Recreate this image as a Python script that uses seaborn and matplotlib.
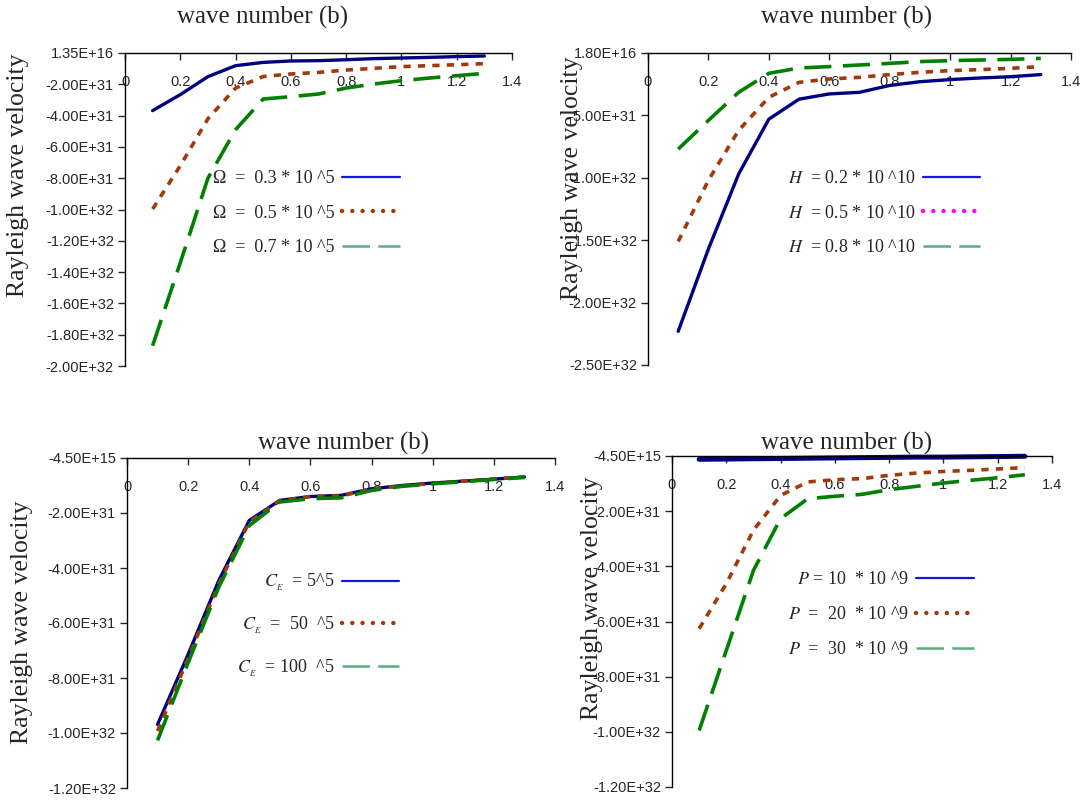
import matplotlib
matplotlib.use("Agg")
import matplotlib.pyplot as plt
from matplotlib.lines import Line2D
from matplotlib.ticker import FixedLocator, FuncFormatter
import numpy as np
import seaborn as sns

# wave number values (x) shared by every curve
wave = [0.1, 0.2, 0.3, 0.4, 0.5, 0.6, 0.7, 0.8, 0.9, 1.0, 1.1, 1.2, 1.3]
SCALE = 1e31  # curve values below are in units of 1E+31

# panel 1 : rotation Omega
omega_03 = [-3.68, -2.66, -1.51, -0.81, -0.60, -0.51, -0.49, -0.43, -0.36, -0.32, -0.28, -0.23, -0.19]
omega_05 = [-9.97, -7.20, -4.20, -2.24, -1.50, -1.34, -1.24, -1.09, -0.98, -0.87, -0.81, -0.75, -0.68]
omega_07 = [-18.7, -13.4, -8.00, -4.90, -2.94, -2.79, -2.62, -2.24, -1.98, -1.77, -1.60, -1.45, -1.30]
omega_labels = ["\u03a9  =  0.3 * 10 ^5", "\u03a9  =  0.5 * 10 ^5", "\u03a9  =  0.7 * 10 ^5"]
omega_yticks = [1.35e16, -2e31, -4e31, -6e31, -8e31, -1e32, -1.2e32, -1.4e32, -1.6e32, -1.8e32, -2e32]

# panel 2 : magnetic field H
h_02 = [-22.3, -15.7, -9.70, -5.30, -3.70, -3.28, -3.15, -2.60, -2.30, -2.13, -2.00, -1.90, -1.73]
h_05 = [-15.1, -10.2, -6.20, -3.55, -2.35, -2.08, -1.95, -1.73, -1.55, -1.41, -1.33, -1.23, -1.09]
h_08 = [-7.70, -5.40, -3.15, -1.63, -1.20, -1.09, -0.96, -0.83, -0.69, -0.61, -0.56, -0.51, -0.43]
h_labels = ["$H$  = 0.2 * 10 ^10", "$H$  = 0.5 * 10 ^10", "$H$  = 0.8 * 10 ^10"]
h_yticks = [1.8e16, -5e31, -1e32, -1.5e32, -2e32, -2.5e32]

# panel 3 : C_E
ce_5 = [-9.69, -7.14, -4.46, -2.27, -1.54, -1.40, -1.36, -1.12, -1.00, -0.91, -0.84, -0.77, -0.69]
ce_50 = [-9.93, -7.28, -4.58, -2.33, -1.56, -1.40, -1.38, -1.13, -1.01, -0.92, -0.84, -0.76, -0.68]
ce_100 = [-10.27, -7.44, -4.70, -2.46, -1.60, -1.48, -1.45, -1.18, -1.03, -0.94, -0.86, -0.78, -0.71]
ce_labels = ["$C_{_E}$  = 5^5", "$C_{_E}$  =  50  ^5", "$C_{_E}$  = 100  ^5"]
low_yticks = [-4.5e15, -2e31, -4e31, -6e31, -8e31, -1e32, -1.2e32]

# panel 4 : P
p_10 = [-0.12, -0.11, -0.10, -0.09, -0.08, -0.07, -0.06, -0.05, -0.04, -0.04, -0.03, -0.02, -0.01]
p_20 = [-6.26, -4.63, -2.69, -1.43, -0.94, -0.86, -0.82, -0.70, -0.62, -0.56, -0.52, -0.47, -0.42]
p_30 = [-9.95, -7.05, -4.15, -2.27, -1.55, -1.46, -1.39, -1.22, -1.10, -0.98, -0.88, -0.79, -0.68]
p_labels = ["$P$ = 10  * 10 ^9", "$P$  =  20  * 10 ^9", "$P$  =  30  * 10 ^9"]

xticks = [0, 0.2, 0.4, 0.6, 0.8, 1.0, 1.2, 1.4]

NAVY, BROWN, GREEN = "#000080", "#A03A0A", "#008000"
W, H = 1084, 801

sns.set_style("white")
plt.rcParams["font.family"] = ["Liberation Sans", "DejaVu Sans"]
plt.rcParams["mathtext.fontset"] = "stix"
SERIF = ["Liberation Serif", "DejaVu Serif"]

fig = plt.figure(figsize=(W / 100, H / 100), dpi=100)
fig.patch.set_facecolor("white")


def rect(x0, y0, x1, y1):
    return [x0 / W, 1 - y1 / H, (x1 - x0) / W, (y1 - y0) / H]


curve_styles = [
    (NAVY, "-", 2.4),
    (BROWN, (0, (2.0, 2.0)), 2.6),
    (GREEN, (0, (7.5, 3.2)), 2.6),
]


def sample_handles(mid_color):
    return [
        Line2D([], [], color="#1414E6", lw=1.6),
        Line2D([], [], color=mid_color, lw=3.2, linestyle=(0, (0.01, 2.3)),
               dash_capstyle="round"),
        Line2D([], [], color="#5AAE7E", lw=1.8, linestyle=(0, (11, 3.3))),
    ]


def panel(box, curves, ylim, yticks, labels, mid_color, leg_xy, spacing,
          title_xy, ylabel_xy, blue_lw=2.4):
    ax = fig.add_axes(rect(*box))
    for i, (vals, (col, ls, lw)) in enumerate(zip(curves, curve_styles)):
        sns.lineplot(x=wave, y=np.array(vals) * SCALE, ax=ax, color=col,
                     linestyle=ls, linewidth=blue_lw if i == 0 else lw,
                     estimator=None, legend=False, clip_on=False)
    ax.set_xlim(0, 1.4)
    ax.set_ylim(*ylim)
    ax.spines["right"].set_visible(False)
    ax.spines["top"].set_visible(False)
    ax.spines["bottom"].set_position(("axes", 1.0))
    for s in ("left", "bottom"):
        ax.spines[s].set_color("black")
        ax.spines[s].set_linewidth(1.0)
    ax.xaxis.set_major_locator(FixedLocator(xticks))
    ax.xaxis.set_major_formatter(FuncFormatter(lambda v, p: f"{v:g}"))
    ax.yaxis.set_major_locator(FixedLocator(yticks))
    ax.yaxis.set_major_formatter(FuncFormatter(lambda v, p: f"{v:.2E}"))
    ax.tick_params(axis="x", direction="out", length=5, width=1, pad=11,
                   labelsize=10.5, bottom=True)
    ax.tick_params(axis="y", direction="out", length=5, width=1, pad=3,
                   labelsize=10.5, left=True)
    ax.set_xlabel("")
    ax.set_ylabel("")
    ax.patch.set_alpha(0)
    ax.legend(sample_handles(mid_color), labels, loc="upper left",
              bbox_to_anchor=(leg_xy[0] / W, 1 - leg_xy[1] / H),
              bbox_transform=fig.transFigure, frameon=False, markerfirst=False,
              handlelength=3.2, handletextpad=0.4, borderpad=0,
              borderaxespad=0, labelspacing=spacing,
              prop={"family": SERIF, "size": 13})
    fig.text(title_xy[0] / W, 1 - title_xy[1] / H, "wave number (b)",
             family=SERIF, fontsize=18, ha="center", va="center")
    fig.text(ylabel_xy[0] / W, 1 - ylabel_xy[1] / H, "Rayleigh wave velocity",
             family=SERIF, fontsize=18.5, ha="center", va="center",
             rotation=90)
    return ax


panel((125, 53, 512, 366), [omega_03, omega_05, omega_07], (-2e32, 1.35e16),
      omega_yticks, omega_labels, BROWN, (213, 170), 0.98, (263, 17), (18, 175))
panel((648, 53, 1071, 365), [h_02, h_05, h_08], (-2.5e32, 1.8e16),
      h_yticks, h_labels, "#FF00FF", (788, 170), 0.98, (847, 17), (572, 178))
panel((127, 458, 555, 788), [ce_5, ce_50, ce_100], (-1.2e32, -4.5e15),
      low_yticks, ce_labels, BROWN, (237, 572), 1.2, (344, 443), (22, 622))
panel((672, 456, 1052, 787), [p_10, p_20, p_30], (-1.2e32, -4.5e15),
      low_yticks, p_labels, BROWN, (788, 571), 1.0, (847, 443), (592, 598),
      blue_lw=3.6)

fig.savefig("out.png", dpi=100, facecolor="white")
